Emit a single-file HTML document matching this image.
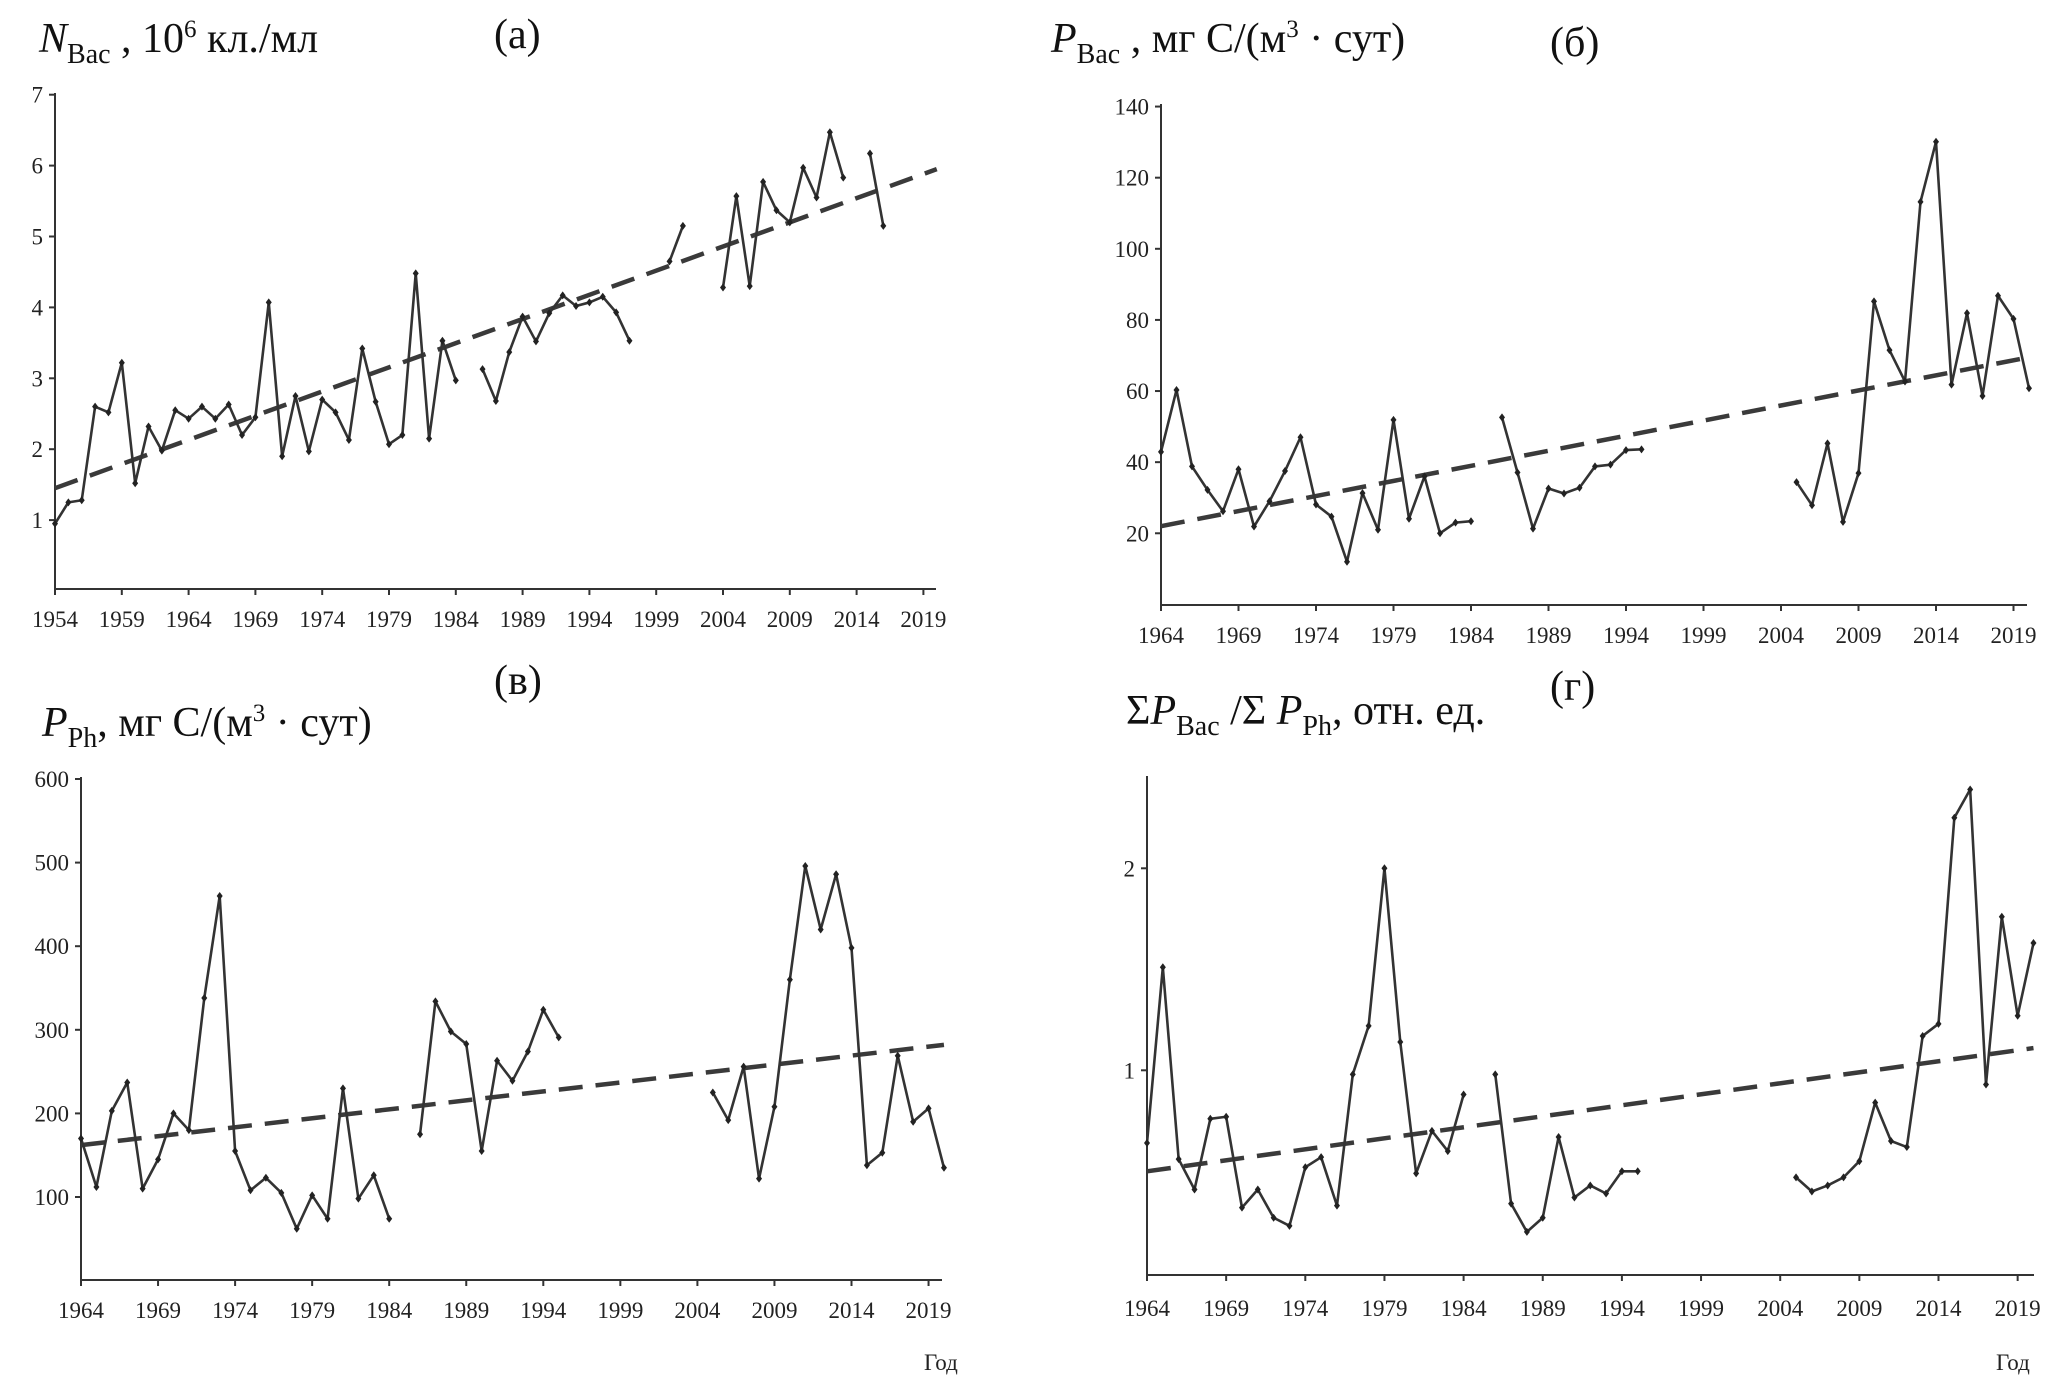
<!DOCTYPE html>
<html><head><meta charset="utf-8"><style>
body{margin:0;background:#fff;}
svg{display:block;font-family:"Liberation Serif","DejaVu Serif",serif;}
.t{font-size:23px;fill:#222;}
.ttl{font-size:42px;fill:#111;}
</style></head><body>
<svg id="fig" width="2068" height="1389" viewBox="0 0 2068 1389" xmlns="http://www.w3.org/2000/svg">
<g><text class="ttl" x="39" y="52"><tspan font-style="italic">N</tspan><tspan font-size="28" dy="11">Bac</tspan><tspan dy="-11"> , 10</tspan><tspan font-size="25" dy="-15">6</tspan><tspan dy="15"> кл./мл</tspan></text></g>
<text class="ttl" x="494" y="48">(а)</text>
<g><text class="ttl" x="1051" y="52"><tspan font-style="italic">P</tspan><tspan font-size="28" dy="11">Bac</tspan><tspan dy="-11"> , мг C/(м</tspan><tspan font-size="25" dy="-15">3</tspan><tspan dy="15"> · сут)</tspan></text></g>
<text class="ttl" x="1550" y="56">(б)</text>
<text class="ttl" x="494" y="694">(в)</text>
<g><text class="ttl" x="42" y="736"><tspan font-style="italic">P</tspan><tspan font-size="28" dy="11">Ph</tspan><tspan dy="-11">, мг C/(м</tspan><tspan font-size="25" dy="-15">3</tspan><tspan dy="15"> · сут)</tspan></text></g>
<g><text class="ttl" x="1126" y="724"><tspan>Σ</tspan><tspan font-style="italic">P</tspan><tspan font-size="28" dy="11">Bac</tspan><tspan dy="-11"> /Σ </tspan><tspan font-style="italic">P</tspan><tspan font-size="28" dy="11">Ph</tspan><tspan dy="-11">, отн. ед.</tspan></text></g>
<text class="ttl" x="1550" y="700">(г)</text>
<text class="t" x="924" y="1370" font-size="22">Год</text>
<text class="t" x="1996" y="1370" font-size="22">Год</text>
</svg>
<script>
const yearsA=[];for(let y=1954;y<=2020;y++)yearsA.push(y);
const yearsB=[];for(let y=1964;y<=2020;y++)yearsB.push(y);
const N=null;
const valuesA=[0.95,1.25,1.28,2.6,2.52,3.22,1.52,2.32,1.98,2.55,2.43,2.6,2.43,2.63,2.2,2.45,4.07,1.9,2.75,1.97,2.7,2.52,2.13,3.42,2.67,2.07,2.2,4.48,2.15,3.53,2.97,N,3.13,2.68,3.37,3.87,3.52,3.92,4.17,4.02,4.07,4.15,3.93,3.53,N,N,4.65,5.15,N,N,4.28,5.57,4.3,5.77,5.37,5.2,5.97,5.55,6.47,5.83,N,6.17,5.15,N,N,N,N];
const trendA=[1.45,5.95];
const valuesB=[42.9,60.3,38.8,32.2,26.2,38.0,21.9,29.0,37.5,47.0,28.1,24.7,12.0,31.3,21.0,51.9,24.1,36.0,20.0,23.0,23.4,N,52.6,37.1,21.3,32.6,31.2,32.8,38.8,39.3,43.4,43.6,N,N,N,N,N,N,N,N,N,34.4,27.9,45.3,23.2,36.9,85.2,71.5,62.7,113.2,130.1,61.8,81.9,58.6,86.8,80.3,60.8];
const trendB=[22,69.5];
const valuesC=[170,112,203,237,110,145,200,180,338,460,155,108,123,105,62,102,74,230,98,126,74,N,175,334,298,283,155,263,239,274,324,291,N,N,N,N,N,N,N,N,N,225,192,256,122,208,360,496,420,486,398,138,153,269,190,206,135];
const trendC=[162,282];
const valuesD=[0.64,1.51,0.56,0.41,0.76,0.77,0.32,0.41,0.27,0.23,0.52,0.57,0.33,0.98,1.22,2.0,1.14,0.49,0.70,0.60,0.88,N,0.98,0.34,0.20,0.27,0.67,0.37,0.43,0.39,0.50,0.50,N,N,N,N,N,N,N,N,N,0.47,0.40,0.43,0.47,0.55,0.84,0.65,0.62,1.17,1.23,2.25,2.39,0.93,1.76,1.27,1.63];
const trendD=[0.5,1.11];
const ticksYA=[1,2,3,4,5,6,7];
const ticksYB=[20,40,60,80,100,120,140];
const ticksYC=[100,200,300,400,500,600];
const ticksYD=[1,2];
const xTicksA=[1954,1959,1964,1969,1974,1979,1984,1989,1994,1999,2004,2009,2014,2019];
const xTicksB=[1964,1969,1974,1979,1984,1989,1994,1999,2004,2009,2014,2019];

const NS='http://www.w3.org/2000/svg';
const svg=document.getElementById('fig');
function mk(tag,attrs,parent){const e=document.createElementNS(NS,tag);for(const k in attrs)e.setAttribute(k,attrs[k]);(parent||svg).appendChild(e);return e;}

function panel(id,cfg){
  const g=mk('g',{});
  
  
  const X=y=>cfg.x0+(y-cfg.y0)*cfg.px;
  const Y=v=>cfg.zeroY-v*cfg.py;
  const ax=mk('path',{d:`M${cfg.x0} ${cfg.top} V${cfg.axisY} H${cfg.xEnd}`,stroke:'#333','stroke-width':2,fill:'none'},g);
  
  
  cfg.yt.forEach(v=>{
    mk('line',{x1:cfg.x0-6,x2:cfg.x0,y1:Y(v),y2:Y(v),stroke:'#333','stroke-width':2},g);
    const t=mk('text',{class:'t',x:cfg.x0-12,y:Y(v)+8,'text-anchor':'end'},g);
    
    
    t.textContent=v;
  });
  cfg.xt.forEach(v=>{
    mk('line',{x1:X(v),x2:X(v),y1:cfg.axisY,y2:cfg.axisY+6,stroke:'#333','stroke-width':2},g);
    const t=mk('text',{class:'t',x:X(v),y:cfg.labY,'text-anchor':'middle'},g);
    
    
    t.textContent=v;
  });
  const yrs=cfg.years,vals=cfg.vals;
  const tr=mk('line',{x1:X(yrs[0]),y1:Y(cfg.trend[0]),x2:X(yrs[yrs.length-1]),y2:Y(cfg.trend[1]),stroke:'#3a3a3a','stroke-width':4.5,'stroke-dasharray':'24 13'},g);
  
  
  let seg=[];const segs=[];
  vals.forEach((v,i)=>{if(v===null){if(seg.length)segs.push(seg);seg=[];}else seg.push([X(yrs[i]),Y(v)]);});
  if(seg.length)segs.push(seg);
  segs.forEach(s=>{
    const p=mk('polyline',{points:s.map(q=>q.join(',')).join(' '),fill:'none',stroke:'#333','stroke-width':2.6,'stroke-linejoin':'round'},g);
    
    
    s.forEach(q=>{
      const m=mk('path',{d:`M${q[0]} ${q[1]-4}L${q[0]+3} ${q[1]}L${q[0]} ${q[1]+4}L${q[0]-3} ${q[1]}Z`,fill:'#222'},g);
      
      
    });
  });
}
panel('a',{x0:55,y0:1954,px:13.36,zeroY:591,py:70.9,top:93,axisY:589,xEnd:936,labY:627,yt:ticksYA,xt:xTicksA,years:yearsA,vals:valuesA,trend:trendA});
panel('b',{x0:1161,y0:1964,px:15.5,zeroY:604.4,py:3.556,top:104,axisY:605,xEnd:2027,labY:643,yt:ticksYB,xt:xTicksB,years:yearsB,vals:valuesB,trend:trendB});
panel('c',{x0:81,y0:1964,px:15.41,zeroY:1280.6,py:0.836,top:777,axisY:1280,xEnd:942,labY:1318,yt:ticksYC,xt:xTicksB,years:yearsB,vals:valuesC,trend:trendC});
panel('d',{x0:1147,y0:1964,px:15.83,zeroY:1272.3,py:202,top:776,axisY:1275,xEnd:2034,labY:1316,yt:ticksYD,xt:xTicksB,years:yearsB,vals:valuesD,trend:trendD});
</script>
</body></html>
